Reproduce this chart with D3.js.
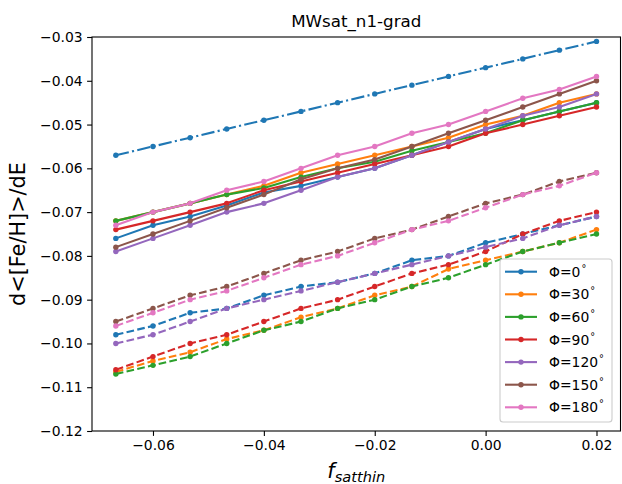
<!DOCTYPE html>
<html>
<head>
<meta charset="utf-8">
<script src="https://cdn.jsdelivr.net/npm/d3@7"></script>
<style>
  body { margin: 0; background: #fff; }
  text { font-family: "DejaVu Sans", sans-serif; }
</style>
</head>
<body>
<div id="chart"></div>
<script>
// data
var fSatThin = [-0.0667, -0.06, -0.0533, -0.0467, -0.04, -0.0333, -0.0267, -0.02, -0.0133, -0.0067, 0.0, 0.0067, 0.0133, 0.02];
var phiLabels = ["0", "30", "60", "90", "120", "150", "180"];
var colors = ["#1f77b4", "#ff7f0e", "#2ca02c", "#d62728", "#9467bd", "#8c564b", "#e377c2"];

var dashDotLine = [-0.057, -0.055, -0.053, -0.051, -0.049, -0.047, -0.045, -0.043, -0.041, -0.039, -0.037, -0.035, -0.033, -0.031];

var solid0 = [-0.076, -0.073, -0.071, -0.0685, -0.0655, -0.064, -0.062, -0.060, -0.057, -0.054, -0.051, -0.049, -0.047, -0.045];
var solid30 = [-0.072, -0.070, -0.068, -0.066, -0.064, -0.061, -0.059, -0.057, -0.055, -0.053, -0.050, -0.048, -0.045, -0.043];
var solid60 = [-0.072, -0.070, -0.068, -0.066, -0.0645, -0.062, -0.060, -0.0585, -0.056, -0.054, -0.052, -0.049, -0.047, -0.045];
var solid90 = [-0.074, -0.072, -0.070, -0.068, -0.065, -0.063, -0.061, -0.059, -0.057, -0.055, -0.052, -0.050, -0.048, -0.046];
var solid120 = [-0.079, -0.076, -0.073, -0.070, -0.068, -0.065, -0.062, -0.060, -0.057, -0.054, -0.051, -0.048, -0.046, -0.043];
var solid150 = [-0.078, -0.075, -0.072, -0.069, -0.066, -0.0625, -0.060, -0.058, -0.055, -0.052, -0.049, -0.046, -0.043, -0.040];
var solid180 = [-0.073, -0.070, -0.068, -0.065, -0.063, -0.060, -0.057, -0.055, -0.052, -0.050, -0.047, -0.044, -0.042, -0.039];

var dashed0 = [-0.098, -0.096, -0.093, -0.092, -0.089, -0.087, -0.086, -0.084, -0.081, -0.080, -0.077, -0.075, -0.073, -0.071];
var dashed30 = [-0.1065, -0.104, -0.102, -0.099, -0.097, -0.094, -0.092, -0.089, -0.087, -0.083, -0.081, -0.079, -0.077, -0.074];
var dashed60 = [-0.107, -0.105, -0.103, -0.100, -0.097, -0.095, -0.092, -0.090, -0.087, -0.085, -0.082, -0.079, -0.077, -0.075];
var dashed90 = [-0.106, -0.103, -0.100, -0.098, -0.095, -0.092, -0.090, -0.087, -0.084, -0.082, -0.079, -0.075, -0.072, -0.070];
var dashed120 = [-0.100, -0.098, -0.095, -0.092, -0.090, -0.088, -0.086, -0.084, -0.082, -0.080, -0.078, -0.076, -0.073, -0.071];
var dashed150 = [-0.095, -0.092, -0.089, -0.087, -0.084, -0.081, -0.079, -0.076, -0.074, -0.071, -0.068, -0.066, -0.063, -0.061];
var dashed180 = [-0.096, -0.093, -0.090, -0.088, -0.085, -0.082, -0.080, -0.077, -0.074, -0.072, -0.069, -0.066, -0.064, -0.061];

var xTicks = [-0.06, -0.04, -0.02, 0.00, 0.02];
var yTicks = [-0.12, -0.11, -0.10, -0.09, -0.08, -0.07, -0.06, -0.05, -0.04, -0.03];

var solids = [solid0, solid30, solid60, solid90, solid120, solid150, solid180];
var dasheds = [dashed0, dashed30, dashed60, dashed90, dashed120, dashed150, dashed180];

var width = 622, height = 484;
var axLeft = 92, axTop = 37, axRight = 620.5, axBottom = 431;

var svg = d3.select("#chart").append("svg")
  .attr("width", width)
  .attr("height", height);

var x = d3.scaleLinear().domain([-0.071, 0.02433]).range([axLeft, axRight]);
var y = d3.scaleLinear().domain([-0.12, -0.03]).range([axBottom, axTop]);

function fmt(v) {
  return d3.format(".2f")(v).replace("-", "\u2212");
}

function drawSeries(vals, color, dash) {
  var line = d3.line()
    .x(function(d, i) { return x(fSatThin[i]); })
    .y(function(d) { return y(d); });
  var g = svg.append("g");
  g.append("path")
    .datum(vals)
    .attr("d", line)
    .attr("fill", "none")
    .attr("stroke", color)
    .attr("stroke-width", 2.1)
    .attr("stroke-dasharray", dash)
    .attr("stroke-linejoin", "round");
  g.selectAll("circle")
    .data(vals)
    .enter().append("circle")
    .attr("cx", function(d, i) { return x(fSatThin[i]); })
    .attr("cy", function(d) { return y(d); })
    .attr("r", 2.7)
    .attr("fill", color);
}

drawSeries(dashDotLine, colors[0], "13.3,3.3,2.1,3.3");
for (var i = 0; i < solids.length; i++) {
  drawSeries(solids[i], colors[i], null);
  drawSeries(dasheds[i], colors[i], "7.7,3.3");
}

// axes
var xAxis = d3.axisBottom(x).tickValues(xTicks).tickFormat(fmt).tickSize(4.9).tickPadding(4.5);
var yAxis = d3.axisLeft(y).tickValues(yTicks).tickFormat(fmt).tickSize(4.9).tickPadding(4.5);

var gx = svg.append("g").attr("transform", "translate(0," + axBottom + ")").call(xAxis);
var gy = svg.append("g").attr("transform", "translate(" + axLeft + ",0)").call(yAxis);
[gx, gy].forEach(function(g) {
  g.select(".domain").remove();
  g.selectAll("line").attr("stroke", "#000").attr("stroke-width", 1.1);
  g.selectAll("text").attr("fill", "#000").style("font-size", "13.9px").style("font-family", "DejaVu Sans");
});

svg.append("rect")
  .attr("x", axLeft)
  .attr("y", axTop)
  .attr("width", axRight - axLeft)
  .attr("height", axBottom - axTop)
  .attr("fill", "none")
  .attr("stroke", "#000")
  .attr("stroke-width", 1.1);

// title and labels
svg.append("text")
  .attr("x", (axLeft + axRight) / 2)
  .attr("y", 27)
  .attr("text-anchor", "middle")
  .style("font-size", "16.7px")
  .text("MWsat_n1-grad");

svg.append("text")
  .attr("transform", "translate(25," + ((axTop + axBottom) / 2) + ") rotate(-90)")
  .attr("text-anchor", "middle")
  .style("font-size", "20.8px")
  .text("d<[Fe/H]>/dE");

var xl = svg.append("text")
  .attr("x", (axLeft + axRight) / 2)
  .attr("y", 478)
  .attr("text-anchor", "middle")
  .style("font-style", "italic");
xl.append("tspan").style("font-size", "20.8px").text("f");
xl.append("tspan").attr("dy", 3.5).style("font-size", "14.6px").text("satthin");

// legend
var leg = svg.append("g");
leg.append("rect")
  .attr("x", 500)
  .attr("y", 259)
  .attr("width", 112)
  .attr("height", 163)
  .attr("rx", 3)
  .attr("fill", "#fff")
  .attr("fill-opacity", 0.8)
  .attr("stroke", "#cccccc")
  .attr("stroke-width", 1.1);

for (var j = 0; j < phiLabels.length; j++) {
  var ly = 271.7 + j * 22.6;
  leg.append("line")
    .attr("x1", 505).attr("x2", 537)
    .attr("y1", ly).attr("y2", ly)
    .attr("stroke", colors[j])
    .attr("stroke-width", 2.1);
  leg.append("circle")
    .attr("cx", 521).attr("cy", ly)
    .attr("r", 2.7)
    .attr("fill", colors[j]);
  var t = leg.append("text")
    .attr("x", 549)
    .attr("y", ly + 5)
    .style("font-size", "13.9px");
  t.append("tspan").text("\u03A6=" + phiLabels[j]);
  t.append("tspan").attr("dy", -5).attr("dx", 1).style("font-size", "9.7px").text("\u00B0");
}
</script>
</body>
</html>
